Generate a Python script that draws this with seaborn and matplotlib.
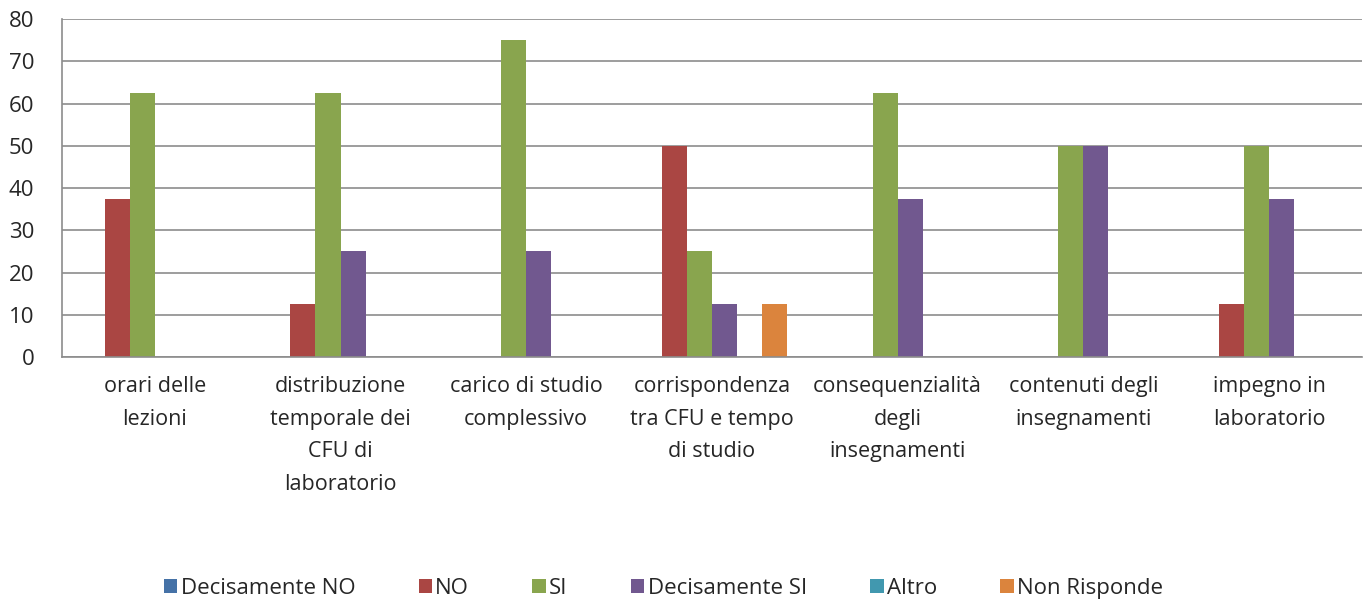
import pandas as pd
import matplotlib.pyplot as plt
import seaborn as sns
from matplotlib.patches import Patch

# Data
categories = [
    "orari delle\nlezioni",
    "distribuzione\ntemporale dei\nCFU di\nlaboratorio",
    "carico di studio\ncomplessivo",
    "corrispondenza\ntra CFU e tempo\ndi studio",
    "consequenzialità\ndegli\ninsegnamenti",
    "contenuti degli\ninsegnamenti",
    "impegno in\nlaboratorio",
]
series = ["Decisamente NO", "NO", "SI", "Decisamente SI", "Altro", "Non Risponde"]
decisamente_no = [0, 0, 0, 0, 0, 0, 0]
no = [37.5, 12.5, 0, 50, 0, 0, 12.5]
si = [62.5, 62.5, 75, 25, 62.5, 50, 50]
decisamente_si = [0, 25, 25, 12.5, 37.5, 50, 37.5]
altro = [0, 0, 0, 0, 0, 0, 0]
non_risponde = [0, 0, 0, 12.5, 0, 0, 0]
colors = ["#4572A7", "#AA4643", "#89A54E", "#71588F", "#4198AF", "#DB843D"]

values = [decisamente_no, no, si, decisamente_si, altro, non_risponde]
rows = []
for name, vals in zip(series, values):
    for cat, v in zip(categories, vals):
        rows.append({"categoria": cat, "risposta": name, "valore": v})
df = pd.DataFrame(rows)

sns.set_theme(style="white")
plt.rcParams['font.family'] = ['Open Sans', 'DejaVu Sans']

fig = plt.figure(figsize=(13.71, 6.05), dpi=100)
ax = fig.add_axes([0.0452, 0.4099, 0.9482, 0.5587])

sns.barplot(data=df, x="categoria", y="valore", hue="risposta",
            order=categories, hue_order=series, palette=colors,
            width=0.81, saturation=1, errorbar=None, legend=False,
            linewidth=0, ax=ax)

ax.set_ylim(0, 80)
ax.set_xlim(-0.5, len(categories) - 0.5)
ax.set_yticks(range(0, 81, 10))
ax.yaxis.grid(True, color="#8c8c8c", linewidth=1.2)
ax.set_axisbelow(True)
for side in ["top", "right"]:
    ax.spines[side].set_visible(False)
for side in ["left", "bottom"]:
    ax.spines[side].set_color("#8c8c8c")
    ax.spines[side].set_linewidth(1.2)
ax.tick_params(axis="y", length=0, pad=20, labelsize=16)
ax.tick_params(axis="x", length=0, pad=14, labelsize=15.5)
for lbl in ax.get_xticklabels():
    lbl.set_linespacing(1.72)
ax.set_xlabel("")
ax.set_ylabel("")

handles = [Patch(facecolor=c, edgecolor="none") for c in colors]
fig.legend(handles, series, loc="center", bbox_to_anchor=(0.484, 0.028),
           ncol=6, frameon=False, fontsize=16, handlelength=0.6,
           handleheight=0.6, handletextpad=0.15, columnspacing=2.85)

fig.savefig("out.png", dpi=100)
